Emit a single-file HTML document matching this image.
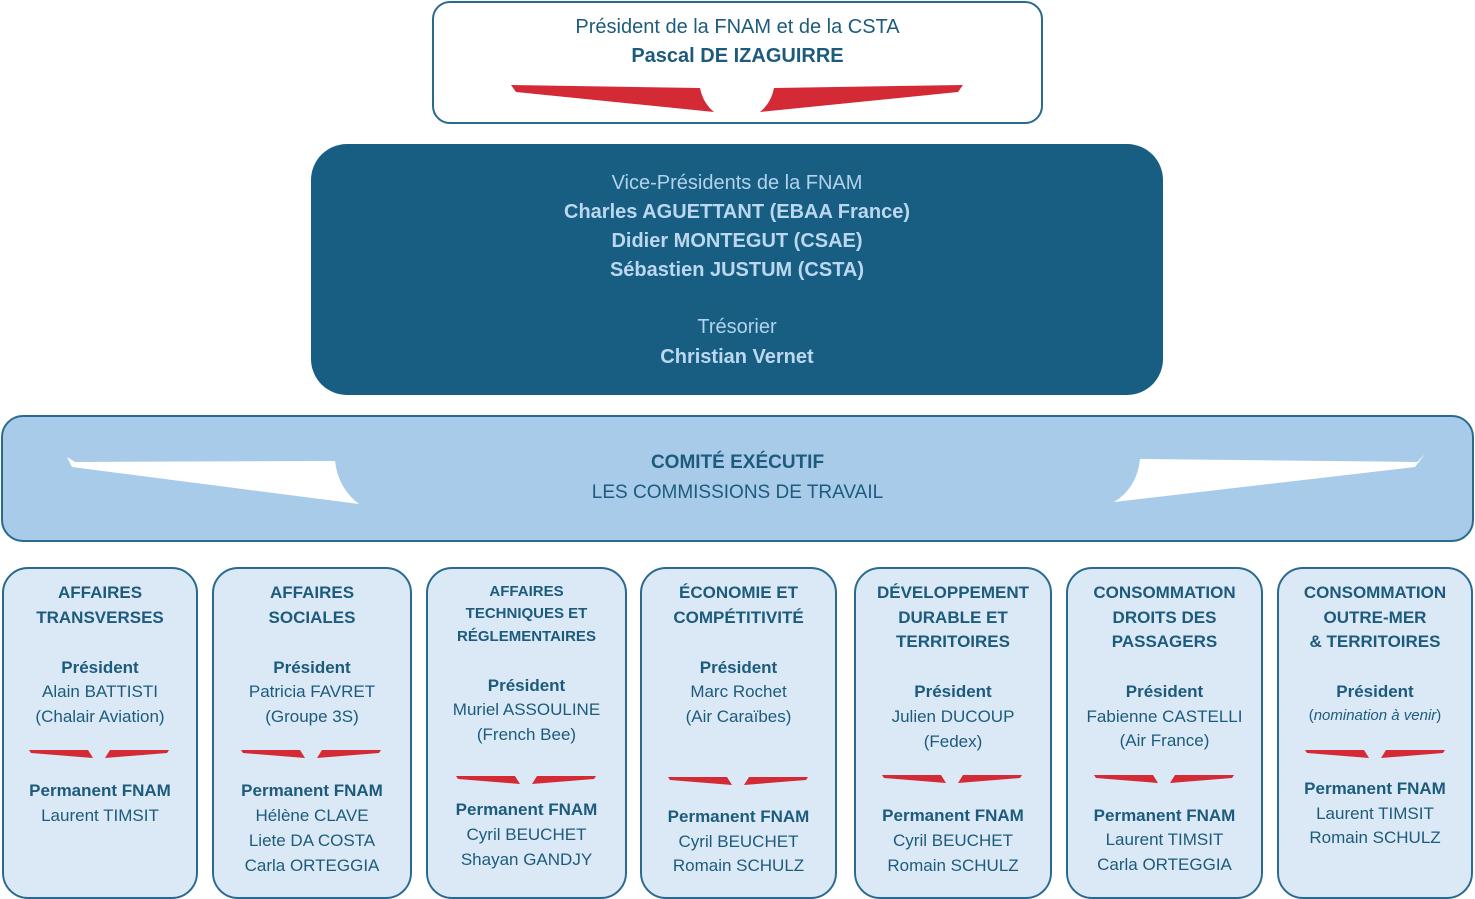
<!DOCTYPE html>
<html><head><meta charset="utf-8">
<style>
*{margin:0;padding:0;box-sizing:border-box}
body{width:1475px;height:897px;background:#fff;position:relative;overflow:hidden;font-family:"Liberation Sans",sans-serif;color:#1d5b7d}
.b{position:absolute}
.t{position:absolute;text-align:center;line-height:24px;height:24px;white-space:nowrap;font-size:17px}
.bo{font-weight:bold}
.c{background:#dbe8f5;border:2px solid #2a6a8e;border-radius:26px;top:567px;height:332px}
.s{font-size:15px}
</style></head><body>
<!-- top box -->
<div class="b" style="left:432px;top:1px;width:611px;height:123px;border:2px solid #2a6a8e;border-radius:18px;background:#fff"></div>
<div class="t" style="left:432px;width:611px;top:14px;font-size:20px;line-height:26px;height:26px">Président de la FNAM et de la CSTA</div>
<div class="t bo" style="left:432px;width:611px;top:43px;font-size:20px;line-height:26px;height:26px">Pascal DE IZAGUIRRE</div>
<svg class="b" style="left:0;top:0" width="1475" height="897">
<path d="M511,85 L700,88 Q703,103 714,112 L516,92 Z" fill="#d42a36"/>
<path d="M963,85 L774,88 Q771,103 760,112 L958,92 Z" fill="#d42a36"/>
</svg>
<!-- dark box -->
<div class="b" style="left:311px;top:144px;width:852px;height:251px;background:#175e82;border-radius:36px"></div>
<div class="t" style="left:311px;width:852px;top:170px;font-size:20px;line-height:26px;height:26px;color:#b3d2ec">Vice-Présidents de la FNAM</div>
<div class="t bo" style="left:311px;width:852px;top:199px;font-size:20px;line-height:26px;height:26px;color:#bcd8f0">Charles AGUETTANT (EBAA France)</div>
<div class="t bo" style="left:311px;width:852px;top:228px;font-size:20px;line-height:26px;height:26px;color:#bcd8f0">Didier MONTEGUT (CSAE)</div>
<div class="t bo" style="left:311px;width:852px;top:257px;font-size:20px;line-height:26px;height:26px;color:#bcd8f0">Sébastien JUSTUM (CSTA)</div>
<div class="t" style="left:311px;width:852px;top:314px;font-size:20px;line-height:26px;height:26px;color:#b3d2ec">Trésorier</div>
<div class="t bo" style="left:311px;width:852px;top:344px;font-size:20px;line-height:26px;height:26px;color:#bcd8f0">Christian Vernet</div>
<!-- comite -->
<div class="b" style="left:1px;top:415px;width:1473px;height:127px;background:#a8cbea;border:2px solid #2a6a8e;border-radius:22px"></div>
<svg class="b" style="left:0;top:0" width="1475" height="897">
<path d="M67,457 L75,462 L335,461 Q338,488 359,504 L72,467 Z" fill="#fff"/>
<path d="M1425,454 L1417,462 L1140,459 Q1137,488 1114,502 L1415,467 Z" fill="#fff"/>
</svg>
<div class="t bo" style="left:1px;width:1473px;top:450px;font-size:19px;line-height:26px;height:26px">COMITÉ EXÉCUTIF</div>
<div class="t" style="left:1px;width:1473px;top:480px;font-size:19px;line-height:26px;height:26px">LES COMMISSIONS DE TRAVAIL</div>
<!-- commission boxes -->
<div class="b c" style="left:2px;width:196px"></div>
<div class="b c" style="left:212px;width:200px"></div>
<div class="b c" style="left:426px;width:201px"></div>
<div class="b c" style="left:640px;width:197px"></div>
<div class="b c" style="left:854px;width:198px"></div>
<div class="b c" style="left:1066px;width:197px"></div>
<div class="b c" style="left:1277px;width:196px"></div>
<svg class="b" style="left:0;top:0" width="1475" height="897">
<defs><g id="w"><path d="M-70,0 L-11,0 L-6,8 L-68,3 Z M70,0 L11,0 L6,8 L68,3 Z" fill="#d42a36"/></g></defs>
<use href="#w" x="99" y="750"/>
<use href="#w" x="311" y="750"/>
<use href="#w" x="526" y="776"/>
<use href="#w" x="738" y="777"/>
<use href="#w" x="952" y="775"/>
<use href="#w" x="1164" y="775"/>
<use href="#w" x="1375" y="750"/>
</svg>
<!-- box1 -->
<div class="t bo" style="left:2px;width:196px;top:581px">AFFAIRES</div>
<div class="t bo" style="left:2px;width:196px;top:606px">TRANSVERSES</div>
<div class="t bo" style="left:2px;width:196px;top:656px">Président</div>
<div class="t" style="left:2px;width:196px;top:680px">Alain BATTISTI</div>
<div class="t" style="left:2px;width:196px;top:705px">(Chalair Aviation)</div>
<div class="t bo" style="left:2px;width:196px;top:779px">Permanent FNAM</div>
<div class="t" style="left:2px;width:196px;top:804px">Laurent TIMSIT</div>
<!-- box2 -->
<div class="t bo" style="left:212px;width:200px;top:581px">AFFAIRES</div>
<div class="t bo" style="left:212px;width:200px;top:606px">SOCIALES</div>
<div class="t bo" style="left:212px;width:200px;top:656px">Président</div>
<div class="t" style="left:212px;width:200px;top:680px">Patricia FAVRET</div>
<div class="t" style="left:212px;width:200px;top:705px">(Groupe 3S)</div>
<div class="t bo" style="left:212px;width:200px;top:779px">Permanent FNAM</div>
<div class="t" style="left:212px;width:200px;top:804px">Hélène CLAVE</div>
<div class="t" style="left:212px;width:200px;top:829px">Liete DA COSTA</div>
<div class="t" style="left:212px;width:200px;top:854px">Carla ORTEGGIA</div>
<!-- box3 -->
<div class="t bo s" style="left:426px;width:201px;top:580px">AFFAIRES</div>
<div class="t bo s" style="left:426px;width:201px;top:602px">TECHNIQUES ET</div>
<div class="t bo s" style="left:426px;width:201px;top:625px">RÉGLEMENTAIRES</div>
<div class="t bo" style="left:426px;width:201px;top:674px">Président</div>
<div class="t" style="left:426px;width:201px;top:698px">Muriel ASSOULINE</div>
<div class="t" style="left:426px;width:201px;top:723px">(French Bee)</div>
<div class="t bo" style="left:426px;width:201px;top:798px">Permanent FNAM</div>
<div class="t" style="left:426px;width:201px;top:823px">Cyril BEUCHET</div>
<div class="t" style="left:426px;width:201px;top:848px">Shayan GANDJY</div>
<!-- box4 -->
<div class="t bo" style="left:640px;width:197px;top:581px">ÉCONOMIE ET</div>
<div class="t bo" style="left:640px;width:197px;top:606px">COMPÉTITIVITÉ</div>
<div class="t bo" style="left:640px;width:197px;top:656px">Président</div>
<div class="t" style="left:640px;width:197px;top:680px">Marc Rochet</div>
<div class="t" style="left:640px;width:197px;top:705px">(Air Caraïbes)</div>
<div class="t bo" style="left:640px;width:197px;top:805px">Permanent FNAM</div>
<div class="t" style="left:640px;width:197px;top:830px">Cyril BEUCHET</div>
<div class="t" style="left:640px;width:197px;top:854px">Romain SCHULZ</div>
<!-- box5 -->
<div class="t bo" style="left:854px;width:198px;top:581px">DÉVELOPPEMENT</div>
<div class="t bo" style="left:854px;width:198px;top:606px">DURABLE ET</div>
<div class="t bo" style="left:854px;width:198px;top:630px">TERRITOIRES</div>
<div class="t bo" style="left:854px;width:198px;top:680px">Président</div>
<div class="t" style="left:854px;width:198px;top:705px">Julien DUCOUP</div>
<div class="t" style="left:854px;width:198px;top:730px">(Fedex)</div>
<div class="t bo" style="left:854px;width:198px;top:804px">Permanent FNAM</div>
<div class="t" style="left:854px;width:198px;top:829px">Cyril BEUCHET</div>
<div class="t" style="left:854px;width:198px;top:854px">Romain SCHULZ</div>
<!-- box6 -->
<div class="t bo" style="left:1066px;width:197px;top:581px">CONSOMMATION</div>
<div class="t bo" style="left:1066px;width:197px;top:606px">DROITS DES</div>
<div class="t bo" style="left:1066px;width:197px;top:630px">PASSAGERS</div>
<div class="t bo" style="left:1066px;width:197px;top:680px">Président</div>
<div class="t" style="left:1066px;width:197px;top:705px">Fabienne CASTELLI</div>
<div class="t" style="left:1066px;width:197px;top:729px">(Air France)</div>
<div class="t bo" style="left:1066px;width:197px;top:804px">Permanent FNAM</div>
<div class="t" style="left:1066px;width:197px;top:828px">Laurent TIMSIT</div>
<div class="t" style="left:1066px;width:197px;top:853px">Carla ORTEGGIA</div>
<!-- box7 -->
<div class="t bo" style="left:1277px;width:196px;top:581px">CONSOMMATION</div>
<div class="t bo" style="left:1277px;width:196px;top:606px">OUTRE-MER</div>
<div class="t bo" style="left:1277px;width:196px;top:630px">&amp; TERRITOIRES</div>
<div class="t bo" style="left:1277px;width:196px;top:680px">Président</div>
<div class="t" style="left:1277px;width:196px;top:704px;font-size:15px">(<i>nomination à venir</i>)</div>
<div class="t bo" style="left:1277px;width:196px;top:777px">Permanent FNAM</div>
<div class="t" style="left:1277px;width:196px;top:802px">Laurent TIMSIT</div>
<div class="t" style="left:1277px;width:196px;top:826px">Romain SCHULZ</div>
</body></html>
